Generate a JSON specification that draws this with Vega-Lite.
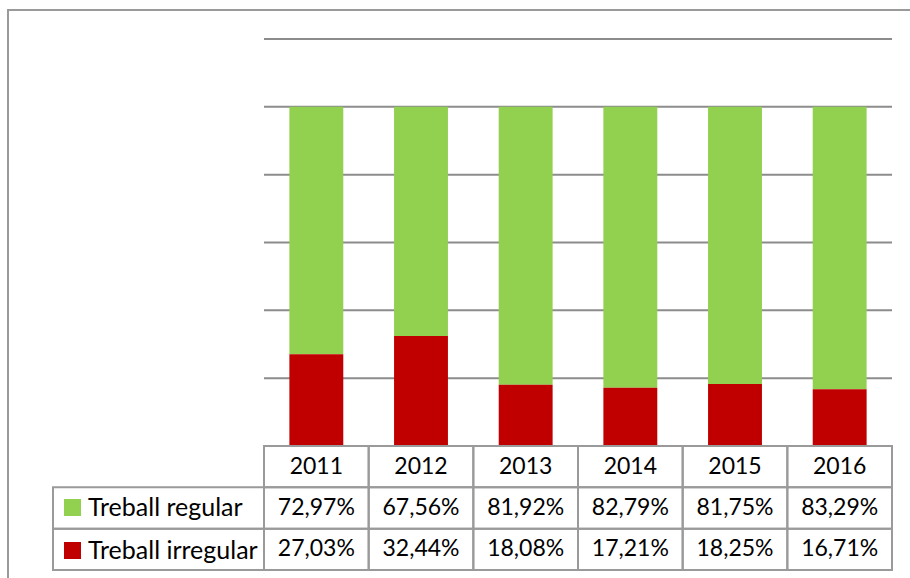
{
  "$schema": "https://vega.github.io/schema/vega-lite/v6.json",
  "width": 920,
  "height": 580,
  "autosize": {"type": "none"},
  "padding": {"left": 8, "top": 10, "right": 0, "bottom": 0},
  "background": "white",
  "config": {
    "font": "Lato",
    "view": {"stroke": "#9a9a9a", "strokeWidth": 2},
    "locale": {"number": {"decimal": ",", "thousands": ".", "grouping": [3], "currency": ["", " €"]}}
  },
  "datasets": {
    "dades": [
      {"any": "2011", "serie": "Treball regular", "pct": 0.7297},
      {"any": "2011", "serie": "Treball irregular", "pct": 0.2703},
      {"any": "2012", "serie": "Treball regular", "pct": 0.6756},
      {"any": "2012", "serie": "Treball irregular", "pct": 0.3244},
      {"any": "2013", "serie": "Treball regular", "pct": 0.8192},
      {"any": "2013", "serie": "Treball irregular", "pct": 0.1808},
      {"any": "2014", "serie": "Treball regular", "pct": 0.8279},
      {"any": "2014", "serie": "Treball irregular", "pct": 0.1721},
      {"any": "2015", "serie": "Treball regular", "pct": 0.8175},
      {"any": "2015", "serie": "Treball irregular", "pct": 0.1825},
      {"any": "2016", "serie": "Treball regular", "pct": 0.8329},
      {"any": "2016", "serie": "Treball irregular", "pct": 0.1671}
    ],
    "graella": [{"v": 0.2}, {"v": 0.4}, {"v": 0.6}, {"v": 0.8}, {"v": 1.0}, {"v": 1.2}]
  },
  "resolve": {"scale": {"x": "independent", "y": "independent"}},
  "layer": [
    {
      "data": {"name": "graella"},
      "mark": {"type": "rule", "stroke": "#8c8c8c", "strokeWidth": 2},
      "encoding": {
        "x": {"datum": 0, "type": "quantitative", "scale": {"domain": [0, 1], "range": [256, 884], "nice": false}, "axis": null},
        "x2": {"datum": 1},
        "y": {"field": "v", "type": "quantitative", "scale": {"domain": [0, 1.2], "range": [436, 29], "nice": false}, "axis": null}
      }
    },
    {
      "data": {"name": "dades"},
      "mark": {"type": "bar"},
      "encoding": {
        "x": {"field": "any", "type": "nominal", "scale": {"domain": ["2011", "2012", "2013", "2014", "2015", "2016"], "range": [256, 884], "paddingInner": 0.485, "paddingOuter": 0.2425}, "axis": null},
        "y": {"field": "pct", "type": "quantitative", "stack": "zero", "scale": {"domain": [0, 1.2], "range": [436, 29], "nice": false}, "axis": null},
        "color": {
          "field": "serie", "type": "nominal",
          "scale": {"domain": ["Treball regular", "Treball irregular"], "range": ["#92D050", "#C00000"]},
          "legend": {"title": null, "orient": "none", "legendX": 52, "legendY": 485, "symbolType": "square", "symbolSize": 289, "symbolStrokeWidth": 0, "labelFontSize": 25, "labelFont": "Lato", "labelColor": "black", "labelOffset": 3, "rowPadding": 17, "padding": 0, "labelLimit": 0, "zindex": 1}
        },
        "order": {"field": "serie", "sort": "ascending"}
      }
    },
    {
      "data": {"name": "dades"},
      "mark": {"type": "rect", "filled": false, "stroke": "#9a9a9a", "strokeWidth": 2},
      "encoding": {
        "x": {"field": "any", "type": "nominal", "scale": {"domain": ["2011", "2012", "2013", "2014", "2015", "2016"], "range": [256, 884], "paddingInner": 0, "paddingOuter": 0}, "axis": null},
        "y": {"field": "serie", "type": "nominal", "scale": {"domain": ["any", "Treball regular", "Treball irregular"], "range": [436, 560], "paddingInner": 0, "paddingOuter": 0}, "axis": null}
      }
    },
    {
      "data": {"name": "dades"},
      "transform": [{"filter": "datum.serie == 'Treball regular'"}],
      "mark": {"type": "rect", "filled": false, "stroke": "#9a9a9a", "strokeWidth": 2},
      "encoding": {
        "x": {"field": "any", "type": "nominal", "scale": {"domain": ["2011", "2012", "2013", "2014", "2015", "2016"], "range": [256, 884], "paddingInner": 0, "paddingOuter": 0}, "axis": null},
        "y": {"datum": "any", "type": "nominal", "scale": {"domain": ["any", "Treball regular", "Treball irregular"], "range": [436, 560], "paddingInner": 0, "paddingOuter": 0}, "axis": null}
      }
    },
    {
      "data": {"name": "dades"},
      "transform": [{"filter": "datum.any == '2011'"}],
      "mark": {"type": "rect", "filled": false, "stroke": "#9a9a9a", "strokeWidth": 2},
      "encoding": {
        "x": {"datum": 0, "type": "quantitative", "scale": {"domain": [0, 1], "range": [45, 256], "nice": false}, "axis": null},
        "x2": {"datum": 1},
        "y": {"field": "serie", "type": "nominal", "scale": {"domain": ["any", "Treball regular", "Treball irregular"], "range": [436, 560], "paddingInner": 0, "paddingOuter": 0}, "axis": null}
      }
    },
    {
      "data": {"name": "dades"},
      "transform": [{"filter": "datum.serie == 'Treball regular'"}],
      "mark": {"type": "text", "fontSize": 23, "color": "black", "baseline": "middle"},
      "encoding": {
        "x": {"field": "any", "type": "nominal", "scale": {"domain": ["2011", "2012", "2013", "2014", "2015", "2016"], "range": [256, 884], "paddingInner": 0, "paddingOuter": 0}, "axis": null},
        "y": {"datum": "any", "type": "nominal", "scale": {"domain": ["any", "Treball regular", "Treball irregular"], "range": [436, 560], "paddingInner": 0, "paddingOuter": 0}, "axis": null},
        "text": {"field": "any", "type": "nominal"}
      }
    },
    {
      "data": {"name": "dades"},
      "mark": {"type": "text", "fontSize": 23, "color": "black", "baseline": "middle"},
      "encoding": {
        "x": {"field": "any", "type": "nominal", "scale": {"domain": ["2011", "2012", "2013", "2014", "2015", "2016"], "range": [256, 884], "paddingInner": 0, "paddingOuter": 0}, "axis": null},
        "y": {"field": "serie", "type": "nominal", "scale": {"domain": ["any", "Treball regular", "Treball irregular"], "range": [436, 560], "paddingInner": 0, "paddingOuter": 0}, "axis": null},
        "text": {"field": "pct", "type": "quantitative", "format": ".2%"}
      }
    }
  ]
}
